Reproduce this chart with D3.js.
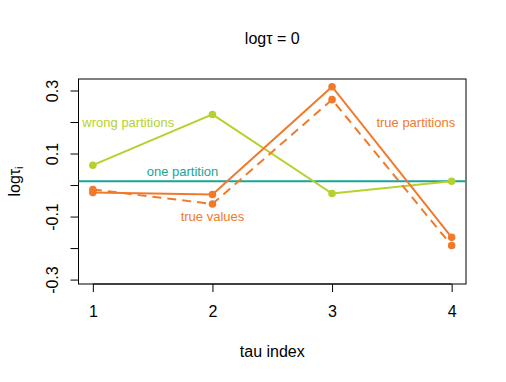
<!DOCTYPE html>
<html lang="en">
<head>
    <meta charset="UTF-8">
    <title>log tau by index</title>
    <script src="https://cdnjs.cloudflare.com/ajax/libs/d3/7.8.5/d3.min.js"></script>
    <style>
        body { margin: 0; background: white; }
        svg { font-family: "Liberation Sans", Arial, sans-serif; }
    </style>
</head>
<body>
    <svg id="plot" width="506" height="382"></svg>
    <script>
        // data
        const tauIndex = [1, 2, 3, 4];
        const wrongPartitions = [0.063, 0.224, -0.027, 0.012];
        const truePartitions = [-0.024, -0.030, 0.312, -0.166];
        const trueValues = [-0.014, -0.060, 0.271, -0.192];
        const onePartition = 0.012;
        const yTicks = [-0.3, -0.2, -0.1, 0, 0.1, 0.2, 0.3];
        const yTickLabels = ["-0.3", "", "-0.1", "", "0.1", "", "0.3"];

        const colors = {
            wrong: "#b6d12c",
            orange: "#f07a2c",
            one: "#1aa39a"
        };

        const width = 506, height = 382;
        const margin = { top: 79, right: 40, bottom: 98, left: 78.5 };
        const plotW = width - margin.left - margin.right;
        const plotH = height - margin.top - margin.bottom;

        const svg = d3.select("#plot");
        const g = svg.append("g")
            .attr("transform", `translate(${margin.left},${margin.top})`);

        const x = d3.scaleLinear().domain([0.88, 4.12]).range([0, plotW]);
        const y = d3.scaleLinear().domain([-0.314, 0.3365]).range([plotH, 0]);

        // box
        g.append("rect")
            .attr("width", plotW).attr("height", plotH)
            .attr("fill", "none").attr("stroke", "#000").attr("stroke-width", 1);

        // axes
        const xAxis = g.append("g")
            .attr("transform", `translate(0,${plotH})`)
            .call(d3.axisBottom(x).tickValues(tauIndex).tickFormat(d3.format("d"))
                .tickSizeOuter(0).tickSizeInner(8).tickPadding(14));
        xAxis.select(".domain").attr("d", `M${x(1)},0H${x(4)}`);
        xAxis.selectAll("text").attr("font-size", 16).attr("fill", "#000")
            .attr("font-family", "Liberation Sans, Arial, sans-serif");

        const yAxis = g.append("g")
            .call(d3.axisLeft(y).tickValues(yTicks)
                .tickFormat((d, i) => yTickLabels[i])
                .tickSizeOuter(0).tickSizeInner(8));
        yAxis.select(".domain").attr("d", `M0,${y(-0.3)}V${y(0.3)}`);
        yAxis.selectAll("text")
            .attr("font-size", 16).attr("fill", "#000")
            .attr("font-family", "Liberation Sans, Arial, sans-serif")
            .attr("text-anchor", "middle")
            .attr("dy", null)
            .attr("x", null)
            .attr("transform", "translate(-26,0) rotate(-90)")
            .attr("dominant-baseline", "central");

        // one partition line
        g.append("line")
            .attr("x1", 0).attr("x2", plotW)
            .attr("y1", y(onePartition)).attr("y2", y(onePartition))
            .attr("stroke", colors.one).attr("stroke-width", 2);

        const line = d3.line().x((d, i) => x(tauIndex[i])).y(d => y(d));

        function drawSeries(values, color, dash) {
            g.append("path")
                .datum(values)
                .attr("d", line)
                .attr("fill", "none")
                .attr("stroke", color)
                .attr("stroke-width", 2)
                .attr("stroke-dasharray", dash);
            g.selectAll(null)
                .data(values)
                .enter()
                .append("circle")
                .attr("cx", (d, i) => x(tauIndex[i]))
                .attr("cy", d => y(d))
                .attr("r", 3.8)
                .attr("fill", color);
        }

        drawSeries(wrongPartitions, colors.wrong, null);
        drawSeries(trueValues, colors.orange, "9,6");
        drawSeries(truePartitions, colors.orange, null);

        // labels in the plot
        const labels = [
            { text: "wrong partitions", x: 1.296, y: 0.2, color: colors.wrong },
            { text: "true partitions", x: 3.70, y: 0.2, color: colors.orange },
            { text: "one partition", x: 1.75, y: 0.043, color: colors.one },
            { text: "true values", x: 2.0, y: -0.1, color: colors.orange }
        ];
        g.selectAll(null)
            .data(labels)
            .enter()
            .append("text")
            .attr("x", d => x(d.x))
            .attr("y", d => y(d.y))
            .attr("text-anchor", "middle")
            .attr("dominant-baseline", "central")
            .attr("font-size", 13)
            .attr("fill", d => d.color)
            .text(d => d.text);

        // titles
        svg.append("text")
            .attr("x", margin.left + plotW / 2).attr("y", 38)
            .attr("text-anchor", "middle").attr("dominant-baseline", "central")
            .attr("font-size", 16)
            .text("logτ = 0");

        svg.append("text")
            .attr("x", margin.left + plotW / 2).attr("y", 351)
            .attr("text-anchor", "middle").attr("dominant-baseline", "central")
            .attr("font-size", 16)
            .text("tau index");

        const yl = svg.append("text")
            .attr("transform", `translate(14,${margin.top + plotH / 2}) rotate(-90)`)
            .attr("text-anchor", "middle").attr("dominant-baseline", "central")
            .attr("font-size", 16);
        yl.append("tspan").text("logτ");
        yl.append("tspan").attr("font-size", 11).attr("dy", 5).text("i");
    </script>
</body>
</html>
